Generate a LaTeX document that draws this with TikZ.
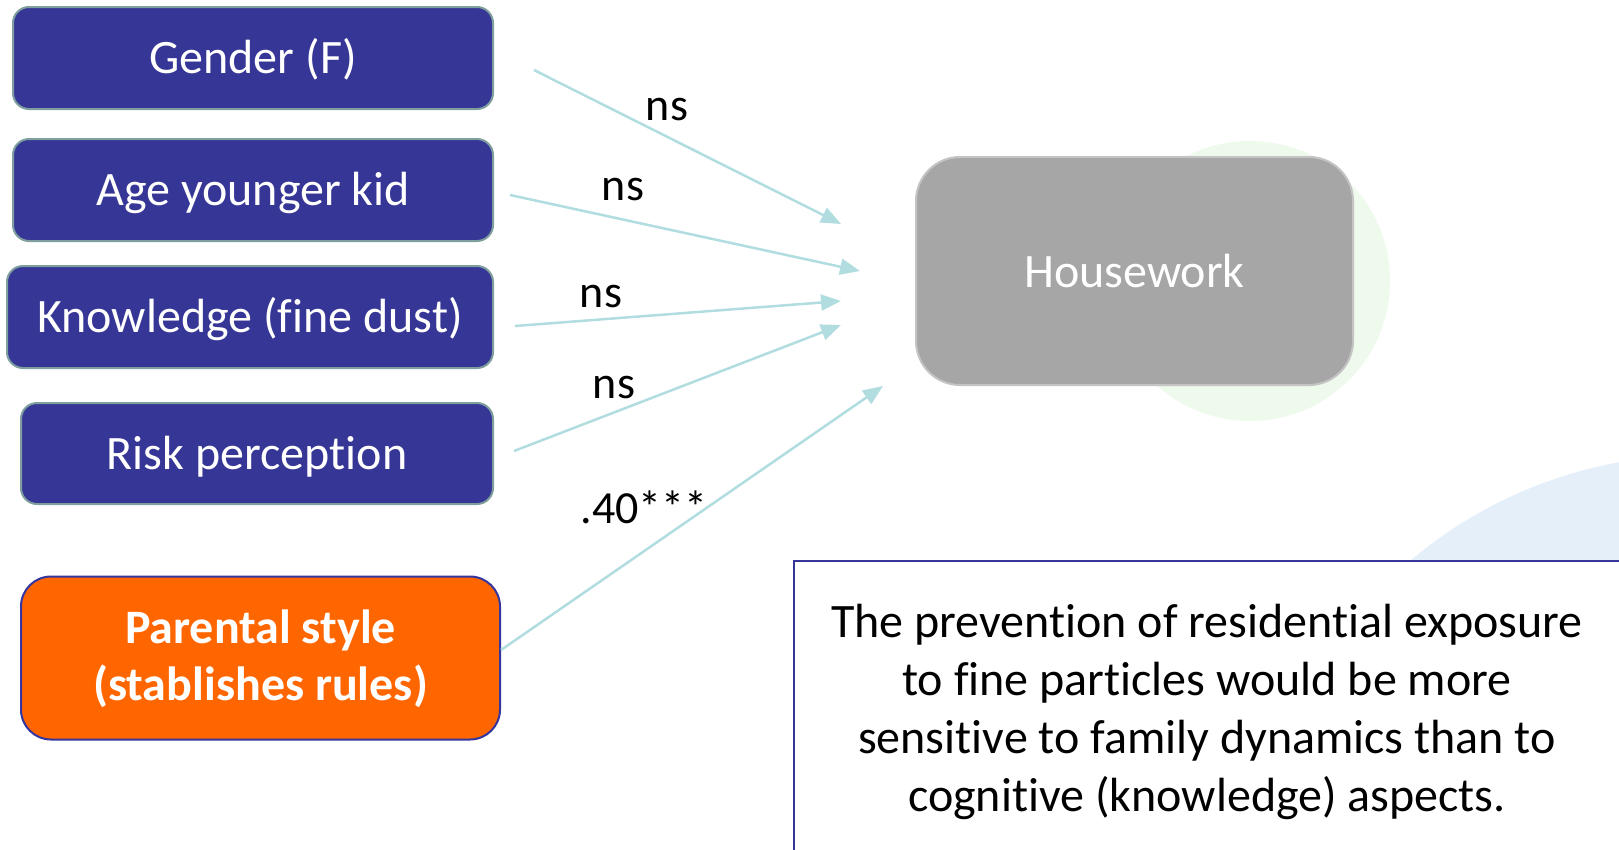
\documentclass[tikz,border=0pt]{standalone}
\usepackage{fontspec}
\setmainfont[Ligatures=NoCommon,RawFeature=-liga]{Carlito}
\usetikzlibrary{arrows.meta}
\definecolor{boxblue}{HTML}{363696}
\definecolor{boxedge}{HTML}{7F9E9E}
\definecolor{orangefill}{HTML}{FF6600}
\definecolor{orangeedge}{HTML}{3535A0}
\definecolor{grayfill}{HTML}{A6A6A6}
\definecolor{grayedge}{HTML}{C4C4C4}
\definecolor{arrowcol}{HTML}{B2DDE0}
\definecolor{noteedge}{HTML}{35359A}
\definecolor{palegreen}{HTML}{EEFAEB}
\definecolor{paleblue}{HTML}{E5EFFA}
\tikzset{
  varbox/.style={draw=boxedge, line width=2pt, fill=boxblue, rounded corners=16pt,
    text=white, inner sep=0pt, align=center, text height=38pt, text depth=7pt,
    font=\fontsize{48}{58}\selectfont},
  parbox/.style={draw=orangeedge, line width=2pt, fill=orangefill, rounded corners=30pt,
    text=white, inner sep=0pt, text height=45pt, text depth=74pt,
    font=\bfseries\fontsize{48}{57}\selectfont},
  outbox/.style={draw=grayedge, line width=2pt, fill=grayfill, rounded corners=44pt,
    text=white, inner sep=0pt, align=center, font=\fontsize{48}{58}\selectfont},
  path/.style={draw=arrowcol, line width=2.5pt, -{Triangle[length=20pt,width=16pt]}},
  lbl/.style={text=black, inner sep=0pt, font=\fontsize{46}{55}\selectfont},
  notetext/.style={text=black, inner sep=0pt, align=center, font=\fontsize{48}{57.8}\selectfont}
}
\begin{document}
\begin{tikzpicture}[x=1pt,y=-1pt]
\useasboundingbox (0,0) rectangle (1619,849);
\clip (0,0) rectangle (1619,849);
\fill[white] (0,0) rectangle (1619,849);
% faint background decoration
\fill[palegreen] (1250,281) circle (140);
\fill[paleblue] (1700,905) circle (450);
% nodes
\node[varbox, minimum width=480pt, minimum height=102pt] (gender) at (253,58) {Gender (F)};
\node[varbox, minimum width=480pt, minimum height=102pt] (age) at (253,190) {Age younger kid};
\node[varbox, minimum width=486pt, minimum height=102pt] (know) at (250,317) {Knowledge (fine dust)};
\node[varbox, minimum width=472pt, minimum height=101pt] (risk) at (257,453.5) {Risk perception};
\node[parbox, minimum width=479pt, minimum height=163pt] (par) at (260.5,658)
  {\begin{tabular}[t]{@{}c@{}}Parental style\\(stablishes rules)\end{tabular}};
\node[outbox, minimum width=437pt, minimum height=228pt] (house) at (1134.5,271) {Housework};
% connector end points
\coordinate (s1) at (534,70);   \coordinate (e1) at (841,224);
\coordinate (s2) at (510,195);  \coordinate (e2) at (860,271);
\coordinate (s3) at (515,326);  \coordinate (e3) at (841,301);
\coordinate (s4) at (514,451);  \coordinate (e4) at (841,325);
\coordinate (s5) at (501,650);  \coordinate (e5) at (883,386);
\draw[path] (s1) -- (e1);
\draw[path] (s2) -- (e2);
\draw[path] (s3) -- (e3);
\draw[path] (s4) -- (e4);
\draw[path] (s5) -- (e5);
% labels
\node[lbl] (l1) at (667,110) {ns};
\node[lbl] (l2) at (623,190) {ns};
\node[lbl] (l3) at (601,297) {ns};
\node[lbl] (l4) at (614,388) {ns};
\node[lbl] (l5) at (644,507) {.40***};
% note box
\fill[white] (794,561) rectangle (1660,880);
\draw[noteedge, line width=2.5pt] (1660,561) -- (794,561) -- (794,880);
\node[notetext] (note) at (1207,712) {The prevention of residential exposure\\to fine particles would be more\\sensitive to family dynamics than to\\cognitive (knowledge) aspects.};
\end{tikzpicture}
\end{document}
